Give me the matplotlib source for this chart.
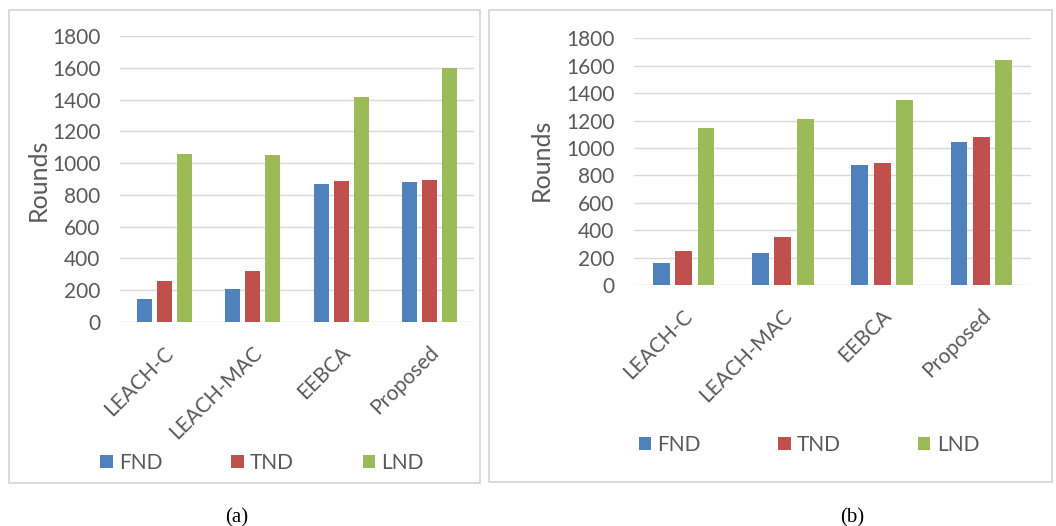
import numpy as np
import matplotlib.pyplot as plt
import matplotlib.transforms as mtransforms
from matplotlib.patches import Rectangle

plt.rcParams['font.family'] = ['Lato', 'DejaVu Sans']

protocols = ['LEACH-C', 'LEACH-MAC', 'EEBCA', 'Proposed']
series = ['FND', 'TND', 'LND']

# panel (a)
fnd_a = [145, 210, 868, 882]
tnd_a = [258, 321, 889, 893]
lnd_a = [1055, 1050, 1415, 1598]
# panel (b)
fnd_b = [163, 231, 878, 1041]
tnd_b = [248, 353, 891, 1078]
lnd_b = [1144, 1209, 1350, 1642]

colors = ['#4F81BD', '#C0504D', '#9BBB59']
yticks = [0, 200, 400, 600, 800, 1000, 1200, 1400, 1600, 1800]
text_col = '#595959'

W, H = 1056, 526
fig = plt.figure(figsize=(W / 100, H / 100), dpi=100)


def px_rect(x0, y0, x1, y1):
    # pixel box (top-left origin) -> figure fraction [l, b, w, h]
    return [x0 / W, 1 - y1 / H, (x1 - x0) / W, (y1 - y0) / H]


def draw_panel(box, frame, data, ylab_xy, leg_xy, colspace):
    # outer frame of the excel chart
    fx0, fy0, fx1, fy1 = frame
    fig.patches.append(Rectangle((fx0 / W, 1 - fy1 / H), (fx1 - fx0) / W, (fy1 - fy0) / H,
                                 transform=fig.transFigure, fill=False,
                                 edgecolor='#d4d4d4', lw=1.2, zorder=0))
    ax = fig.add_axes(px_rect(*box))
    x = np.arange(len(protocols))
    bars = []
    for i, vals in enumerate(data):
        b = ax.bar(x + (i - 1) * 0.225, vals, width=0.17, color=colors[i],
                   label=series[i], zorder=3)
        bars.append(b)
    ax.set_xlim(-0.5, len(protocols) - 0.5)
    ax.set_ylim(0, 1800)
    ax.set_yticks(yticks)
    ax.yaxis.grid(True, color='#d9d9d9', lw=1)
    ax.set_axisbelow(True)
    for s in ax.spines.values():
        s.set_visible(False)
    ax.tick_params(axis='both', length=0, colors=text_col, labelsize=15)
    ax.tick_params(axis='y', pad=14)
    ax.set_xticks(x)
    ax.set_xticklabels(protocols, rotation=45, ha='right', va='center',
                       rotation_mode='anchor')
    ax.tick_params(axis='x', pad=20)
    # nudge rotated labels a little to the right, like excel does
    shift = mtransforms.ScaledTranslation(6 / 100, 0, fig.dpi_scale_trans)
    for lab in ax.get_xticklabels():
        lab.set_transform(lab.get_transform() + shift)
    fig.text(ylab_xy[0] / W, 1 - ylab_xy[1] / H, 'Rounds', rotation=90,
             ha='center', va='center', fontsize=18, color=text_col)
    fig.legend(handles=bars, labels=series, loc='center', ncol=3,
               bbox_to_anchor=(leg_xy[0] / W, 1 - leg_xy[1] / H),
               frameon=False, fontsize=15, labelcolor=text_col,
               handlelength=0.6, handleheight=0.6, handletextpad=0.3,
               columnspacing=colspace)
    return ax


draw_panel((120, 36, 474, 322), (9, 10, 480, 483),
           [fnd_a, tnd_a, lnd_a], (38, 180), (262, 463), 3.3)
draw_panel((634, 38.3, 1031, 285), (489, 10, 1052, 482),
           [fnd_b, tnd_b, lnd_b], (541, 160), (809, 445), 3.7)

fig.text(237 / W, 1 - 518 / H, '(a)', ha='center', va='center',
         fontsize=15, family='Liberation Serif', color='black')
fig.text(852 / W, 1 - 518 / H, '(b)', ha='center', va='center',
         fontsize=15, family='Liberation Serif', color='black')

fig.savefig('out.png', dpi=100)
